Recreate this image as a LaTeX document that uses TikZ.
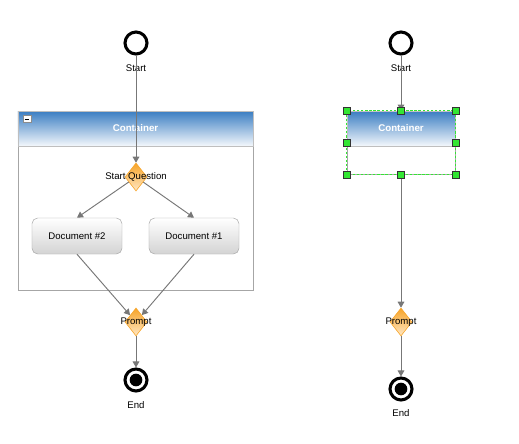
\documentclass[tikz,border=0pt]{standalone}
\usepackage{fontspec}
\setmainfont{Liberation Sans}
\usepackage{tikz}
\usetikzlibrary{arrows.meta,shapes.geometric}
\definecolor{wfblue}{HTML}{3A7DC2}
\definecolor{wfmid}{HTML}{6FA3D8}
\definecolor{wfpale}{HTML}{F4F8FC}
\definecolor{wforange}{HTML}{F7A428}
\definecolor{wfcream}{HTML}{FFE7C4}
\definecolor{wfgray}{HTML}{777777}
\definecolor{wfgreen}{HTML}{33E633}
\tikzset{
  wftext/.style={font=\fontsize{8.2}{9.5}\selectfont, text=black, inner sep=1pt},
  wfstart/.style={circle, draw=black, line width=2.6pt, fill=white,
    minimum size=0.66cm, inner sep=0pt},
  wfend/.style={wfstart, path picture={\fill[black]
    (path picture bounding box.center) circle (0.19cm);}},
  wfgate/.style={diamond, draw=wforange, line width=0.5pt, top color=wforange,
    bottom color=wfcream, minimum width=0.66cm, minimum height=0.84cm, inner sep=0pt},
  wfdoc/.style={draw=black!35, rounded corners=0.17cm, top color=white,
    bottom color=black!17, minimum width=2.7cm, minimum height=1.08cm, wftext},
  wfbody/.style={draw=black!35, fill=white, line width=0.6pt, inner sep=0pt},
  wfheader/.style={draw=black!25, top color=wfblue, middle color=wfmid,
    bottom color=wfpale, minimum height=1.05cm, inner sep=0pt, text=white,
    font=\bfseries\fontsize{8.3}{9.5}\selectfont},
  wfarrow/.style={-{Triangle[length=1.8mm,width=2mm]}, draw=wfgray, line width=0.8pt},
  wfhandle/.style={draw=black!80, fill=wfgreen, minimum size=0.21cm, inner sep=0pt,
    line width=0.4pt}
}
\begin{document}
\begin{tikzpicture}[x=0.03cm,y=-0.03cm]
  \useasboundingbox (0,0) rectangle (519,444);
  % left: expanded container
  \node[wfbody, minimum width=7.05cm, minimum height=5.37cm] (cont) at (135.5,200.5) {};
  \node[wfheader, minimum width=7.05cm] (conth) at (135.5,128.5) {Container};
  \node[draw=black!45, fill=white, minimum width=0.23cm, minimum height=0.2cm,
    inner sep=0pt, line width=0.4pt,
    path picture={\draw[black, line width=0.8pt]
      ([xshift=1.2pt]path picture bounding box.west) --
      ([xshift=-1.2pt]path picture bounding box.east);}] (collapse) at (27,119) {};
  \node[wfstart] (start) at (136,43) {};
  \node[wftext] (startlab) at (136,68) {Start};
  \node[wfgate, label={[wftext]center:Start Question}] (startq) at (136,177) {};
  \node[wfdoc] (doc2) at (77,236) {Document \#2};
  \node[wfdoc] (doc1) at (194,236) {Document \#1};
  \node[wfgate, label={[wftext]center:Prompt}] (prompt) at (136,322) {};
  \node[wfend] (end) at (136,380) {};
  \node[wftext] (endlab) at (136,405) {End};
  \draw[wfarrow] (start) -- (startq);
  \draw[wfarrow] (startq) -- (doc2.north);
  \draw[wfarrow] (startq) -- (doc1.north);
  \draw[wfarrow] (doc2.south) -- (prompt);
  \draw[wfarrow] (doc1.south) -- (prompt);
  \draw[wfarrow] (prompt) -- (end);
  % right: collapsed, selected container
  \node[wfbody, minimum width=3.24cm, minimum height=1.89cm] (rcont) at (401,142.5) {};
  \node[wfheader, minimum width=3.24cm] (rconth) at (401,128.5) {Container};
  \draw[wfgreen, dash pattern=on 2pt off 1.5pt, line width=0.5pt]
    (rcont.north west) rectangle (rcont.south east);
  \node[wfstart] (rstart) at (401,43) {};
  \node[wftext] (rstartlab) at (401,68) {Start};
  \node[wfgate, label={[wftext]center:Prompt}] (rprompt) at (401,322) {};
  \node[wfend] (rend) at (401,389) {};
  \node[wftext] (rendlab) at (401,413) {End};
  \draw[wfarrow] (rstart) -- (rcont.north);
  \draw[wfarrow] (rcont.south) -- (rprompt);
  \draw[wfarrow] (rprompt) -- (rend);
  \foreach \a [count=\i] in {north west,north,north east,west,east,south west,south,south east}
    \node[wfhandle] (hd\i) at (rcont.\a) {};
\end{tikzpicture}
\end{document}
